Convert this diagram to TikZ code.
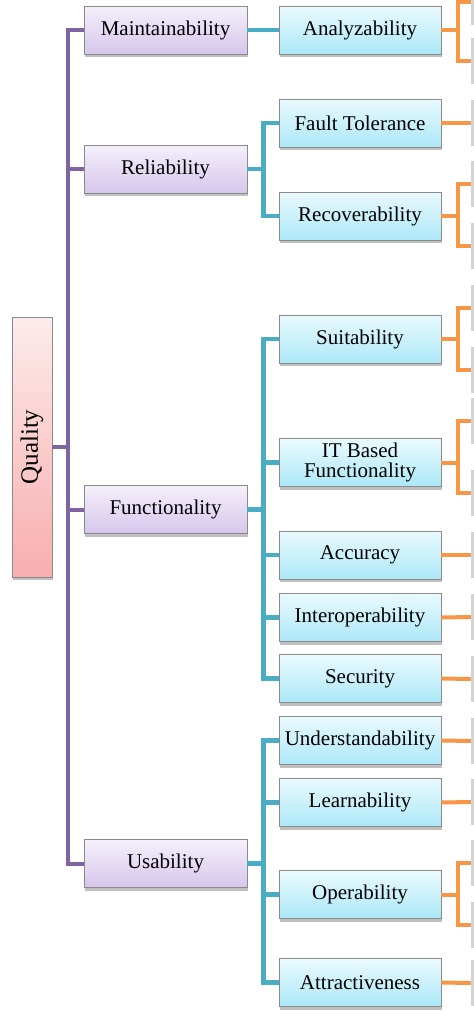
\documentclass[tikz,border=0pt]{standalone}
\usepackage{fontspec}
\setmainfont{Liberation Serif}
\usetikzlibrary{shadows}
\definecolor{qpurple}{HTML}{8064A2}
\definecolor{qaqua}{HTML}{4BACC6}
\definecolor{qorange}{HTML}{F79646}
\definecolor{pTop}{HTML}{F5F0FB}
\definecolor{pBot}{HTML}{D6C6EC}
\definecolor{bTop}{HTML}{EAFAFE}
\definecolor{bBot}{HTML}{ACE8F8}
\definecolor{rTop}{HTML}{FDEBEB}
\definecolor{rBot}{HTML}{F8AEAE}
\definecolor{edge}{HTML}{8A8A8A}
\tikzset{
  box/.style={draw=edge, line width=0.9pt, inner sep=0pt, align=center,
    font=\fontsize{21}{21}\selectfont,
    drop shadow={shadow xshift=1pt, shadow yshift=-3pt, opacity=0.35, fill=black!70}},
  pbox/.style={box, minimum width=163pt, minimum height=48pt, top color=pTop, bottom color=pBot},
  bbox/.style={box, minimum width=162pt, minimum height=48pt, top color=bTop, bottom color=bBot},
  qbox/.style={box, minimum width=40pt, minimum height=260pt, top color=rTop, bottom color=rBot},
  leaf/.style={inner sep=0pt, minimum width=48pt, minimum height=46pt, fill=black!17},
  pline/.style={draw=qpurple, line width=4pt},
  aline/.style={draw=qaqua, line width=4.5pt},
  oline/.style={draw=qorange, line width=4pt}
}
\begin{document}
\begin{tikzpicture}[x=1pt,y=-1pt]
\clip (0,0) rectangle (474,1021);
\useasboundingbox (0,0) rectangle (474,1021);
\fill[white] (0,0) rectangle (474,1021);

% level 1
\node[qbox] (q) at (32,447) {\rotatebox{90}{\fontsize{25}{25}\selectfont Quality}};

% level 2
\node[pbox] (maint) at (165.5,30) {Maintainability};
\node[pbox] (rel) at (165.5,169) {Reliability};
\node[pbox] (func) at (165.5,509.5) {Functionality};
\node[pbox] (usa) at (165.5,863.5) {Usability};

% level 3
\node[bbox] (ana) at (360,30) {Analyzability};
\node[bbox] (fault) at (360,123) {Fault Tolerance};
\node[bbox] (rec) at (360,216) {Recoverability};
\node[bbox] (suit) at (360,339) {Suitability};
\node[bbox] (itb) at (360,462.5) {IT Based\\[-1pt]Functionality};
\node[bbox] (acc) at (360,555) {Accuracy};
\node[bbox] (inter) at (360,617.5) {Interoperability};
\node[bbox] (sec) at (360,678.5) {Security};
\node[bbox] (und) at (360,740.5) {Understandability};
\node[bbox] (learn) at (360,802.5) {Learnability};
\node[bbox] (oper) at (360,894.5) {Operability};
\node[bbox] (attr) at (360,982.5) {Attractiveness};

% level 4 (cut off at the right edge)
\foreach \n/\y in {l1/2, l2/61, l3/123, l4/184, l5/246, l6/308, l7/370, l8/421, l9/493, l10/555, l11/617, l12/679, l13/741, l14/802, l15/863, l16/925, l17/983} {
  \node[leaf] (\n) at (495,\y) {};
}

% purple connectors
\foreach \c in {maint,rel,func,usa} {
  \draw[pline] (q.east) -- ++(16,0) |- (\c.west);
}
% aqua connectors
\draw[aline] (maint.east) -- (ana.west);
\foreach \c in {fault,rec} { \draw[aline] (rel.east) -- ++(16,0) |- (\c.west); }
\foreach \c in {suit,itb,acc,inter,sec} { \draw[aline] (func.east) -- ++(16,0) |- (\c.west); }
\foreach \c in {und,learn,oper,attr} { \draw[aline] (usa.east) -- ++(16,0) |- (\c.west); }

% orange connectors
\foreach \p/\c in {ana/l1, ana/l2, rec/l4, rec/l5, suit/l6, suit/l7, itb/l8, itb/l9, oper/l15, oper/l16} {
  \draw[oline] (\p.east) -- ++(17,0) |- (\c.west);
}
\foreach \p/\c in {fault/l3, acc/l10, inter/l11, sec/l12, und/l13, learn/l14, attr/l17} {
  \draw[oline] (\p.east) -- (\c.west);
}
\end{tikzpicture}
\end{document}
